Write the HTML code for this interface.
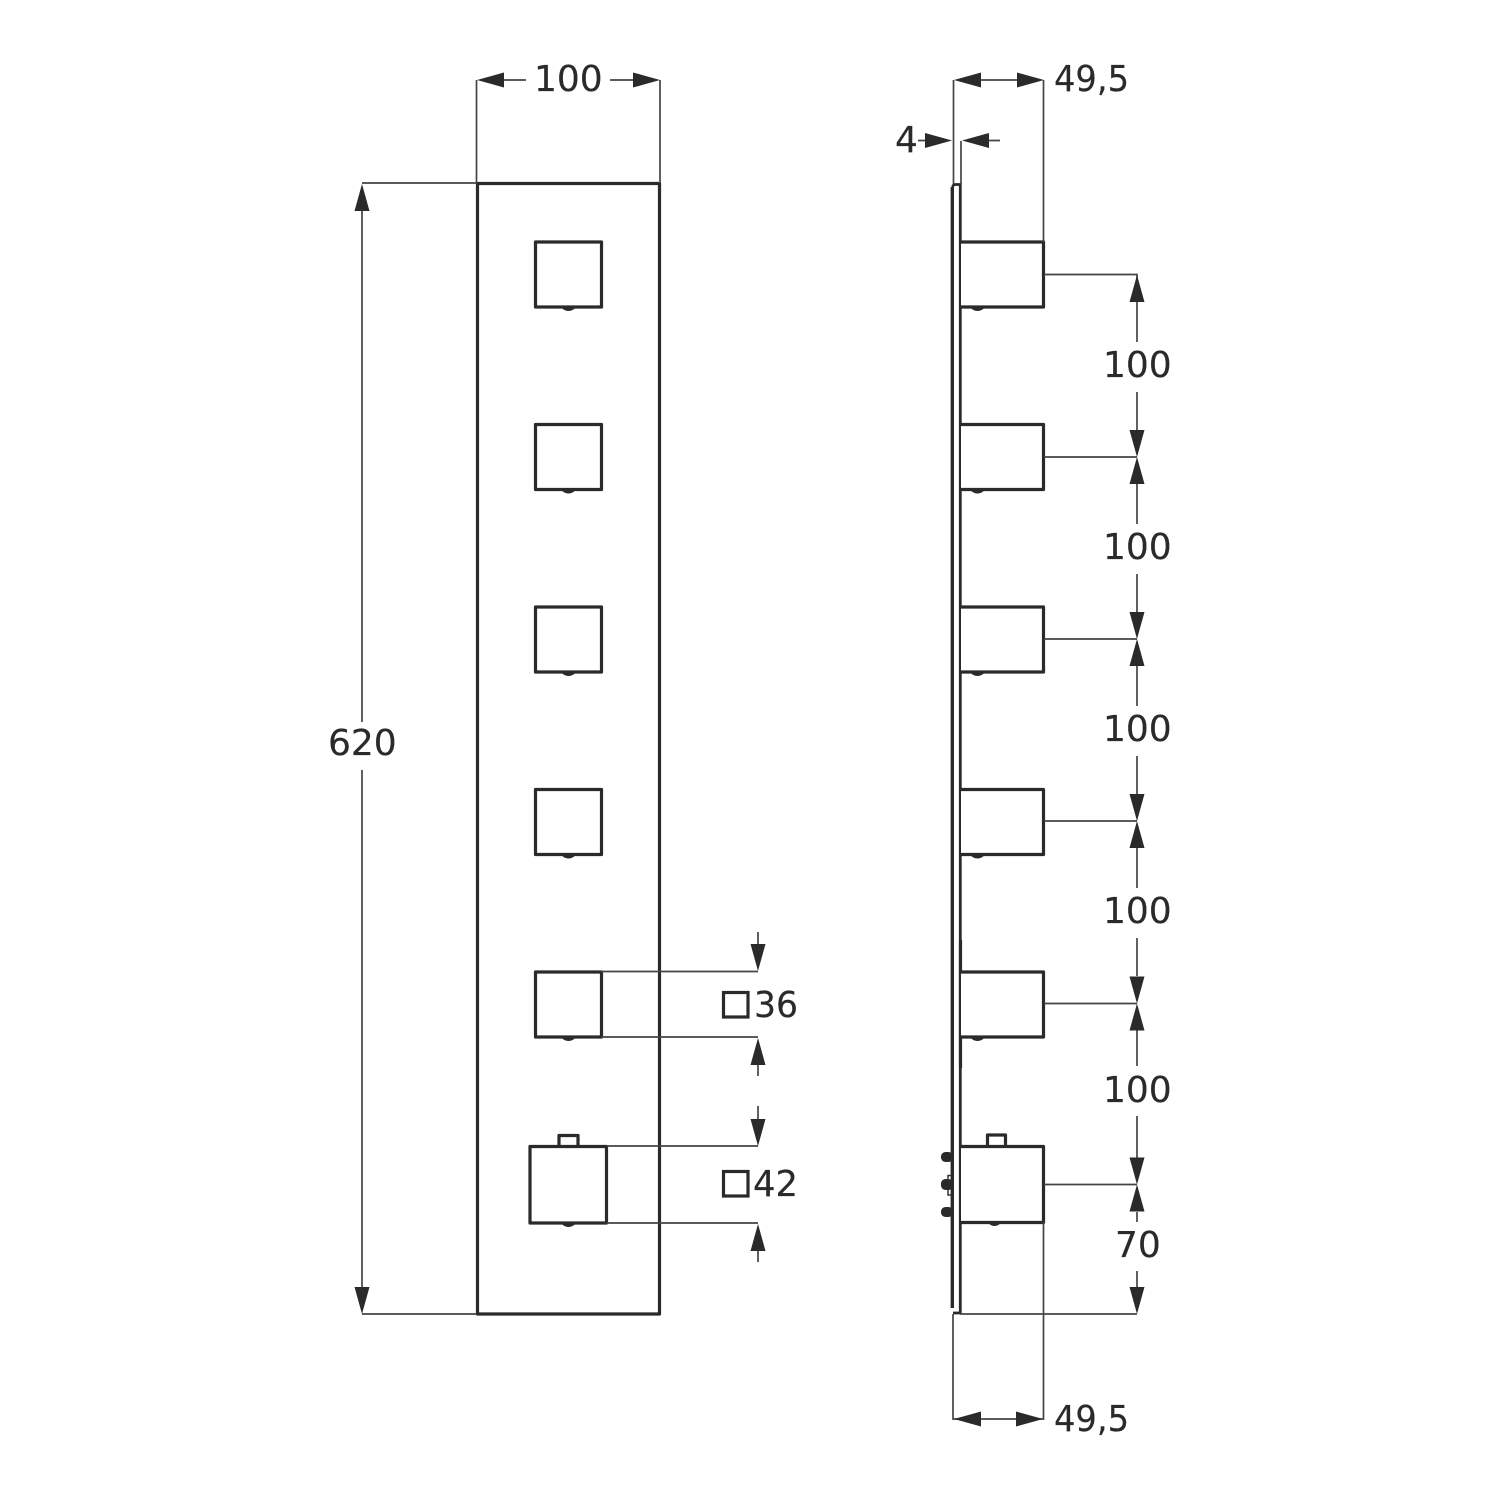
<!DOCTYPE html>
<html><head><meta charset="utf-8"><style>
html,body{margin:0;padding:0;background:#fff}
svg{display:block}
text{font-family:"DejaVu Sans","Liberation Sans",sans-serif;font-size:36px;fill:#2a2a2a;stroke:#2a2a2a;stroke-width:.2}
.t{stroke:#2a2a2a;stroke-width:3.2;fill:#fff;stroke-linejoin:round}
.d{stroke:#444;stroke-width:1.7;fill:none}
.a{fill:#2a2a2a;stroke:none}
</style></head><body>
<svg width="1500" height="1500" viewBox="0 0 1500 1500" xmlns="http://www.w3.org/2000/svg">
<defs>
<g id="up"><path class="a" d="M0 0L-7.500 27H7.500Z"/></g>
<g id="dn"><path class="a" d="M0 0L-7.500 -27H7.500Z"/></g>
<g id="lf"><path class="a" d="M0 0L27 -7.500V7.500Z"/></g>
<g id="rt"><path class="a" d="M0 0L-27 -7.500V7.500Z"/></g>
<g id="fk"><path class="a" d="M561 65H576Q573 69 568.500 69Q564 69 561 65Z"/><rect class="t" x="535.500" y="0" width="66" height="65"/></g>
<g id="sk"><path class="a" d="M970 65H985Q982 69 977.500 69Q973 69 970 65Z"/><path class="t" d="M961 0H1043.500V65H961"/></g>
</defs>

<!-- front view -->
<rect class="t" x="477.500" y="183.500" width="182" height="1130.500"/>
<use href="#fk" y="242"/><use href="#fk" y="424.500"/><use href="#fk" y="607"/><use href="#fk" y="789.500"/><use href="#fk" y="972"/>
<path class="t" d="M559 1146V1135.500H578V1146"/>
<path class="a" d="M561 1223H576Q573 1227 568.500 1227Q564 1227 561 1223Z"/>
<rect class="t" x="530" y="1146.500" width="76.500" height="76.500"/>

<!-- front dims -->
<path class="d" d="M476.500 183V80M660 183V80M500 80H526M610 80H636"/>
<use href="#lf" x="477" y="80"/><use href="#rt" x="660" y="80"/>
<text x="534" y="91">100</text>
<path class="d" d="M362 183H477M362 1314H477M362 205V722M362 770V1295"/>
<use href="#up" x="362" y="184"/><use href="#dn" x="362" y="1314"/>
<text x="328" y="755">620</text>
<path class="d" d="M601 971.500H758M601 1037H758M607 1146H758M607 1223H758M758 932V955M758 1050V1076M758 1106V1130M758 1240V1262"/>
<use href="#dn" x="758" y="971"/><use href="#up" x="758" y="1038"/><use href="#dn" x="758" y="1146"/><use href="#up" x="758" y="1224"/>
<rect x="723.500" y="992.500" width="24.500" height="24.500" fill="none" stroke="#2a2a2a" stroke-width="3.200"/>
<rect x="723.500" y="1171.500" width="24.500" height="24.500" fill="none" stroke="#2a2a2a" stroke-width="3.200"/>
<text x="754" y="1017" textLength="44" lengthAdjust="spacingAndGlyphs">36</text>
<text x="753" y="1196" textLength="45" lengthAdjust="spacingAndGlyphs">42</text>

<!-- side view -->
<path d="M952.300 1308V187" stroke="#2a2a2a" stroke-width="3.400" fill="none"/>
<path d="M952.300 187L954 184.500H960.300V1313H953" stroke="#2a2a2a" stroke-width="2.800" fill="none"/>
<path d="M960.500 940V1068" stroke="#2a2a2a" stroke-width="3.200" fill="none"/>
<use href="#sk" y="242"/><use href="#sk" y="424.500"/><use href="#sk" y="607"/><use href="#sk" y="789.500"/><use href="#sk" y="972"/>
<path class="t" d="M987.500 1146V1135H1005.500V1146"/>
<path class="a" d="M988 1222H1001Q999 1226 994.500 1226Q990 1226 988 1222Z"/>
<path class="t" d="M961 1146.500H1043.500V1222.500H961"/>
<g fill="#2a2a2a">
<rect x="941" y="1152" width="12" height="10" rx="4.500"/>
<rect x="941" y="1179" width="12" height="11" rx="4.500"/>
<rect x="941" y="1207" width="12" height="10" rx="4.500"/>
</g>
<path d="M948 1181V1175.500H951M948 1190V1195H951" stroke="#333" stroke-width="1.500" fill="none"/>

<!-- side dims -->
<path class="d" d="M953.500 80V184M1043.500 80V242M975 80H1020M961 141V184M918 140.500H930M985 140.500H1000"/>
<use href="#lf" x="954" y="80"/><use href="#rt" x="1044" y="80"/>
<use href="#rt" x="952" y="140.500"/><use href="#lf" x="962" y="140.500"/>
<text x="1054" y="91" textLength="75" lengthAdjust="spacingAndGlyphs">49,5</text>
<text x="895" y="152">4</text>

<path class="d" d="M1044 274.500H1137V342M1137 392V430M1044 457H1137M1137 484V524M1137 574V612M1044 639H1137M1137 666V706M1137 756V794M1044 821H1137M1137 848V888M1137 938V976M1044 1003.500H1137M1137 1030V1066M1137 1116V1158M1044 1184.500H1137M1137 1212V1222M1137 1271V1295M960 1314H1137"/>
<use href="#up" x="1137" y="275"/><use href="#dn" x="1137" y="457"/>
<use href="#up" x="1137" y="457"/><use href="#dn" x="1137" y="639"/>
<use href="#up" x="1137" y="639"/><use href="#dn" x="1137" y="821"/>
<use href="#up" x="1137" y="821"/><use href="#dn" x="1137" y="1003.500"/>
<use href="#up" x="1137" y="1003.500"/><use href="#dn" x="1137" y="1184.500"/>
<use href="#up" x="1137" y="1184.500"/><use href="#dn" x="1137" y="1314"/>
<text x="1103" y="377">100</text>
<text x="1103" y="559">100</text>
<text x="1103" y="741">100</text>
<text x="1103" y="923">100</text>
<text x="1103" y="1102">100</text>
<text x="1115" y="1257">70</text>

<path class="d" d="M953 1314V1419H1043.500V1222"/>
<use href="#lf" x="954" y="1419"/><use href="#rt" x="1043" y="1419"/>
<text x="1054" y="1431" textLength="75" lengthAdjust="spacingAndGlyphs">49,5</text>
</svg>
</body></html>
